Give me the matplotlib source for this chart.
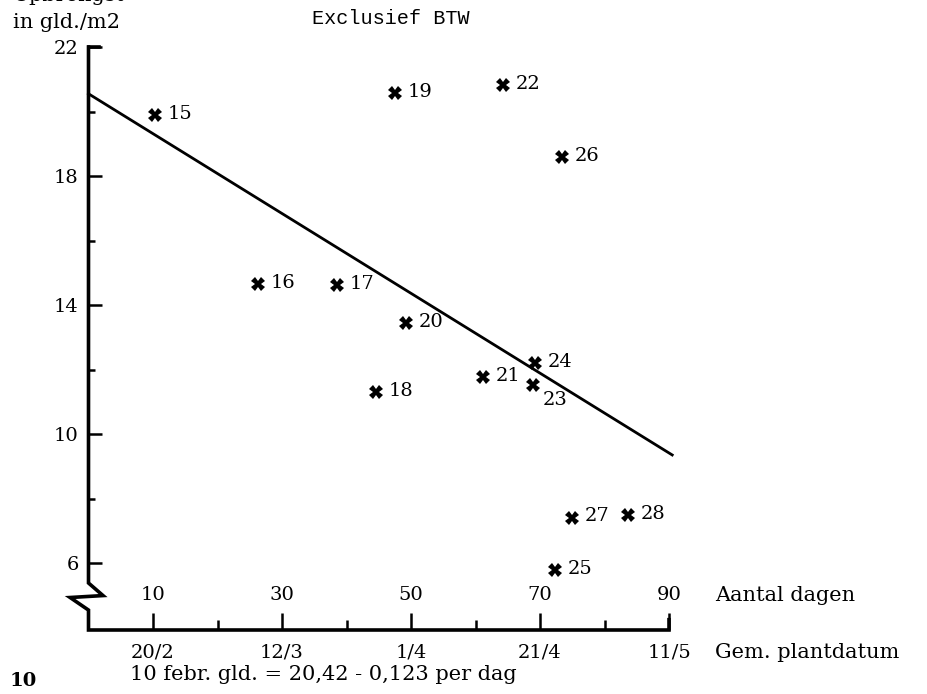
import matplotlib
matplotlib.use("Agg")
import matplotlib.pyplot as plt

# ═══ data ═══
plot_nr = ["15", "16", "17", "18", "19", "20", "21", "22", "23", "24", "25", "26", "27", "28"]
dagen = [10.3, 26.3, 38.5, 44.6, 47.5, 49.2, 61.2, 64.3, 68.9, 69.2, 72.3, 73.4, 75.0, 83.6]
opbrengst = [19.89, 14.65, 14.62, 11.30, 20.57, 13.44, 11.77, 20.82, 11.52, 12.20, 5.78, 18.59, 7.40, 7.49]

fit_x = [0, 90.5]
fit_y = [20.55, 9.35]

day_ticks = [10, 30, 50, 70, 90]
date_labels = ["20/2", "12/3", "1/4", "21/4", "11/5"]
minor_day_ticks = [20, 40, 60, 80]
y_ticks = [6, 10, 14, 18, 22]
minor_y_ticks = [8, 12, 16, 20]

# ═══ figure ═══
plt.rcParams['font.family'] = ['DejaVu Serif']
plt.rcParams['mathtext.fontset'] = 'dejavuserif'
FS = 14      # numbers
FW = 15      # words

W, H = 927, 694
fig = plt.figure(figsize=(W / 100, H / 100), dpi=100, facecolor='white')
# axis pixel frame: x=0 at 88.5 px, x=90 at 669 px; y=22 at 47 px, axis line at 630 px
ax = fig.add_axes([88.5 / W, (H - 630) / H, (669 - 88.5) / W, (630 - 47) / H])
ymin = 22 - (630 - 47) / 32.25
ax.set_xlim(0, 90)
ax.set_ylim(ymin, 22)
for s in ax.spines.values():
    s.set_visible(False)

# hand-drawn frame with axis break
lw = 2.6
brk = [(0, 22), (0, 5.38), (2.25, 4.99), (-2.85, 4.93), (0, 4.54), (0, ymin), (90, ymin), (90, ymin + 0.32)]
ax.plot([p[0] for p in brk], [p[1] for p in brk], color='black', lw=lw,
        solid_joinstyle='miter', clip_on=False)
ax.plot([0, 1.7], [22, 22], color='black', lw=lw, clip_on=False)

# ticks
ax.set_yticks(y_ticks)
ax.set_yticks(minor_y_ticks, minor=True)
ax.tick_params(axis='y', which='major', direction='in', length=9, width=1.8, pad=7, labelsize=FS)
ax.tick_params(axis='y', which='minor', direction='in', length=4.5, width=1.8)
ax.set_xticks(day_ticks)
ax.set_xticklabels(date_labels)
ax.set_xticks(minor_day_ticks, minor=True)
ax.tick_params(axis='x', which='major', direction='in', length=12, width=1.8, pad=10, labelsize=FS)
ax.tick_params(axis='x', which='minor', direction='in', length=7, width=1.8)

for d in day_ticks:
    ax.annotate(str(d), xy=(d, 0), xycoords=('data', 'axes fraction'),
                xytext=(0, 25), textcoords='offset points', ha='center', va='center', fontsize=FS)

ax.annotate("Aantal dagen", xy=(90, 0), xycoords=('data', 'axes fraction'),
            xytext=(33, 25), textcoords='offset points', ha='left', va='center', fontsize=FW)
ax.annotate("Gem. plantdatum", xy=(90, 0), xycoords=('data', 'axes fraction'),
            xytext=(33, -16), textcoords='offset points', ha='left', va='center', fontsize=FW)

# regression line + points
ax.plot(fit_x, fit_y, color='black', lw=2.0, clip_on=False)
ax.plot(dagen, opbrengst, linestyle='none', marker='X', markersize=9.5,
        color='black', markeredgewidth=0, clip_on=False)
for nr, d, v in zip(plot_nr, dagen, opbrengst):
    off = (7, -11) if nr == "23" else (9, 1)
    ax.annotate(nr, xy=(d, v), xytext=off, textcoords='offset points',
                ha='left', va='center', fontsize=FS)

ax.annotate(r"R$^2$ = 0,27", xy=(fit_x[1], fit_y[1]), xytext=(14, 0),
            textcoords='offset points', ha='left', va='center', fontsize=FS)

# header / footer texts
fig.text(13 / W, (H - 1) / H, "Opbrengst", ha='left', va='baseline', fontsize=FW)
fig.text(13 / W, (H - 28) / H, "in gld./m2", ha='left', va='baseline', fontsize=FW)
fig.text(312 / W, (H - 19) / H, "Exclusief BTW", ha='left', va='center', fontsize=14.5,
         family=['Liberation Mono'])
fig.text(130 / W, (H - 675) / H, "10 febr. gld. = 20,42 - 0,123 per dag",
         ha='left', va='center', fontsize=FW)
fig.text(10 / W, (H - 681) / H, "10", ha='left', va='center', fontsize=FS, weight='bold')

fig.savefig("out.png", dpi=100, facecolor='white')
plt.close()
